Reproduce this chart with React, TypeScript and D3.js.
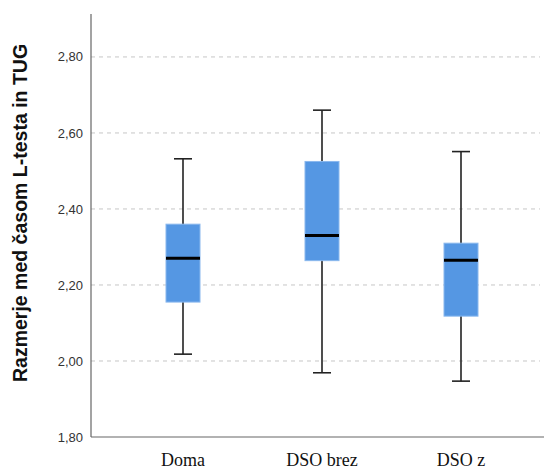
import React from "react";
import * as d3 from "d3";

// groups and five-number summaries
const groups = ["Doma", "DSO brez", "DSO z"];
const whiskerLow = [2.018, 1.969, 1.947];
const q1 = [2.155, 2.264, 2.118];
const median = [2.27, 2.33, 2.265];
const q3 = [2.36, 2.525, 2.31];
const whiskerHigh = [2.532, 2.66, 2.551];
const yTicks = [1.8, 2.0, 2.2, 2.4, 2.6, 2.8];

const width = 544;
const height = 469;
const margin = { top: 14, right: 0, bottom: 32, left: 91 };

const App = () => {
  const y = d3
    .scaleLinear()
    .domain([1.8, 2.913])
    .range([height - margin.bottom, margin.top]);

  const x = d3.scalePoint<string>().domain(groups).range([183, 461]);

  const boxW = 34;
  const capW = 18;
  const fmt = (v: number) => d3.format(".2f")(v).replace(".", ",");

  return (
    <svg
      width={width}
      height={height}
      style={{ position: "absolute", left: 0, top: 0, background: "#fff" }}
    >
      {/* grid lines */}
      {yTicks.slice(1).map((t) => (
        <line
          key={t}
          x1={margin.left}
          x2={width - 4}
          y1={y(t)}
          y2={y(t)}
          stroke="#c6c6c6"
          strokeWidth={1}
          strokeDasharray="4,4"
        />
      ))}

      {/* y tick labels */}
      {yTicks.map((t) => (
        <text
          key={t}
          x={margin.left - 8}
          y={y(t)}
          dy="0.35em"
          textAnchor="end"
          fontFamily="'Liberation Sans', Arial, sans-serif"
          fontSize={13}
          fill="#333"
        >
          {fmt(t)}
        </text>
      ))}

      {/* axes */}
      <line
        x1={margin.left}
        x2={margin.left}
        y1={margin.top}
        y2={y(1.8)}
        stroke="#666"
        strokeWidth={1.2}
      />
      <line
        x1={margin.left}
        x2={width}
        y1={y(1.8)}
        y2={y(1.8)}
        stroke="#666"
        strokeWidth={1.2}
      />

      {/* boxes */}
      {groups.map((g, i) => {
        const cx = x(g) as number;
        return (
          <g key={g}>
            <line
              x1={cx}
              x2={cx}
              y1={y(whiskerHigh[i])}
              y2={y(whiskerLow[i])}
              stroke="#222"
              strokeWidth={1.6}
            />
            <line
              x1={cx - capW / 2}
              x2={cx + capW / 2}
              y1={y(whiskerHigh[i])}
              y2={y(whiskerHigh[i])}
              stroke="#222"
              strokeWidth={1.6}
            />
            <line
              x1={cx - capW / 2}
              x2={cx + capW / 2}
              y1={y(whiskerLow[i])}
              y2={y(whiskerLow[i])}
              stroke="#222"
              strokeWidth={1.6}
            />
            <rect
              x={cx - boxW / 2}
              y={y(q3[i])}
              width={boxW}
              height={y(q1[i]) - y(q3[i])}
              fill="#5597e3"
              stroke="#8ab8ee"
              strokeWidth={1}
            />
            <line
              x1={cx - boxW / 2}
              x2={cx + boxW / 2}
              y1={y(median[i])}
              y2={y(median[i])}
              stroke="#000"
              strokeWidth={3}
            />
          </g>
        );
      })}

      {/* x labels */}
      {groups.map((g) => (
        <text
          key={g}
          x={x(g)}
          y={466}
          textAnchor="middle"
          fontFamily="'Liberation Serif', 'Times New Roman', serif"
          fontSize={18}
          fill="#111"
        >
          {g}
        </text>
      ))}

      {/* y title */}
      <text
        transform="translate(27,213) rotate(-90)"
        textAnchor="middle"
        fontFamily="'Liberation Sans', Arial, sans-serif"
        fontWeight="bold"
        fontSize={19.5}
        fill="#111"
      >
        Razmerje med časom L-testa in TUG
      </text>
    </svg>
  );
};

export default App;
